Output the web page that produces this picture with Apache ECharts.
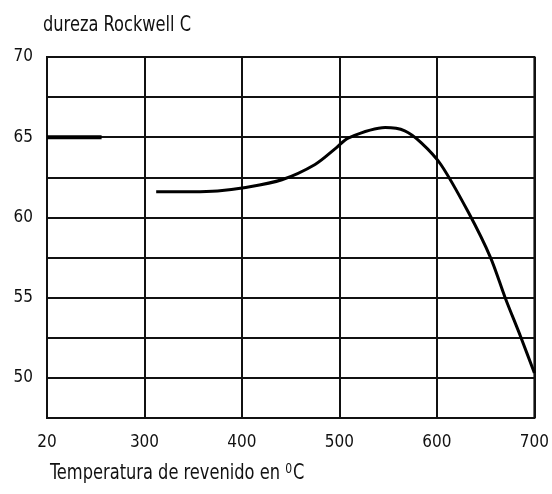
<!DOCTYPE html>
<html>
<head>
<meta charset="utf-8">
<script src="https://cdn.jsdelivr.net/npm/echarts@6/dist/echarts.min.js"></script>
<style>
html,body{margin:0;padding:0;background:#fff;}
#c{width:552px;height:494px;}
</style>
</head>
<body>
<div id="c"></div>
<script>
// Data
const temperatures = [312, 350, 375, 402, 441, 475, 497, 509, 547, 567, 584, 604, 632, 655, 670, 686, 700];
const hardness     = [61.6, 61.6, 61.65, 61.85, 62.35, 63.3, 64.35, 64.95, 65.6, 65.4, 64.65, 63.3, 60.35, 57.5, 55.0, 52.55, 50.3];
const asQuenchedTemps = [200, 256];
const asQuenchedHardness = [65, 65];
const xTicks = [200, 300, 400, 500, 600, 700];
const xTickLabels = ['20', '300', '400', '500', '600', '700'];
const yTicks = [50, 55, 60, 65, 70];

const FONT = '"DejaVu Sans Condensed", "Liberation Sans Narrow", sans-serif';

const chart = echarts.init(document.getElementById('c'), null, {renderer: 'canvas'});
chart.setOption({
  animation: false,
  backgroundColor: '#ffffff',
  grid: {left: 47, right: 14, top: 57, bottom: 76, show: true, borderColor: '#111', borderWidth: 2, backgroundColor: 'transparent'},
  xAxis: {
    type: 'value', min: 200, max: 700, interval: 100,
    axisLine: {show: false}, axisTick: {show: false},
    splitLine: {show: true, lineStyle: {color: '#111', width: 2}},
    axisLabel: {
      margin: 16, color: '#111', fontFamily: FONT, fontSize: 17,
      formatter: v => { const i = xTicks.indexOf(v); return i >= 0 ? xTickLabels[i] : ''; }
    }
  },
  yAxis: {
    type: 'value', min: 47.5, max: 70, interval: 2.5,
    axisLine: {show: false}, axisTick: {show: false},
    splitLine: {show: true, lineStyle: {color: '#111', width: 2}},
    axisLabel: {
      margin: 14, color: '#111', fontFamily: FONT, fontSize: 17,
      formatter: v => yTicks.indexOf(v) >= 0 ? String(v) : ''
    }
  },
  graphic: [
    {type: 'text', x: 43, y: 15, scaleX: 0.86, style: {text: 'dureza Rockwell C', fontFamily: FONT, fontSize: 21, fill: '#111'}},
    {type: 'text', x: 50, y: 462, scaleX: 0.86, style: {
      text: 'Temperatura de revenido en {s|0}C', fontFamily: FONT, fontSize: 21, fill: '#111',
      rich: {s: {fontFamily: FONT, fontSize: 14, verticalAlign: 'top', padding: [0, 1, 10, 0], fill: '#111'}}
    }}
  ],
  series: [
    {
      type: 'line', data: temperatures.map((t, i) => [t, hardness[i]]),
      smooth: 0.3, showSymbol: false, lineStyle: {color: '#000', width: 3}, z: 5
    },
    {
      type: 'line', data: asQuenchedTemps.map((t, i) => [t, asQuenchedHardness[i]]),
      showSymbol: false, lineStyle: {color: '#000', width: 4}, z: 5
    }
  ]
});
</script>
</body>
</html>
